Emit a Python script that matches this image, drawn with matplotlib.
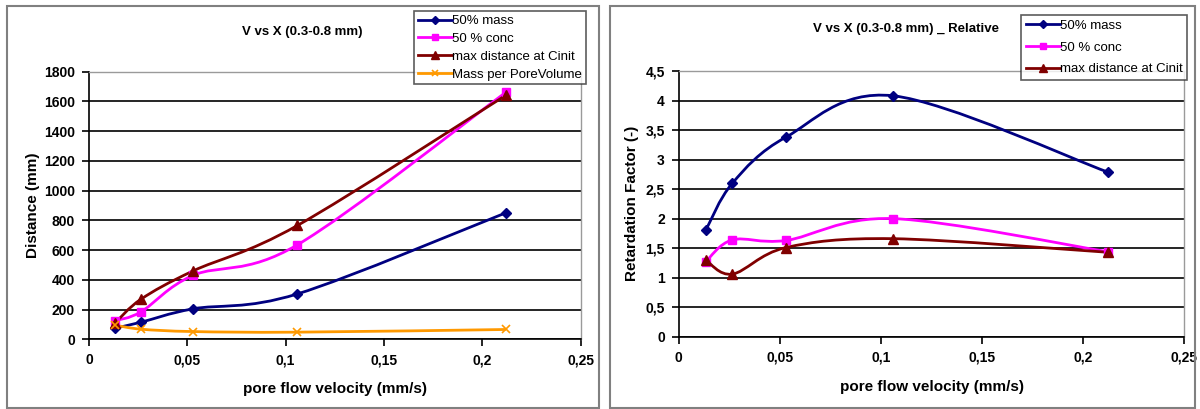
import matplotlib
matplotlib.use("Agg")
import numpy as np
import matplotlib.pyplot as plt
from matplotlib.path import Path
from matplotlib.patches import PathPatch, Rectangle
from matplotlib.lines import Line2D
from matplotlib.ticker import FuncFormatter

plt.rcParams['font.family'] = ['Liberation Sans', 'DejaVu Sans']

# ---- data ----
velocity = [0.0133, 0.0265, 0.053, 0.106, 0.212]

dist_mass50 = [75, 115, 205, 305, 850]
dist_conc50 = [125, 185, 430, 635, 1660]
dist_maxcinit = [110, 270, 460, 765, 1640]
dist_mass_pv = [95, 68, 52, 48, 66]

rf_mass50 = [1.8, 2.6, 3.38, 4.08, 2.79]
rf_conc50 = [1.27, 1.64, 1.63, 2.0, 1.44]
rf_maxcinit = [1.3, 1.06, 1.51, 1.66, 1.43]

left_series = ["50% mass", "50 % conc", "max distance at Cinit", "Mass per PoreVolume"]
right_series = ["50% mass", "50 % conc", "max distance at Cinit"]

title_left = "V vs X (0.3-0.8 mm)"
title_right = "V vs X (0.3-0.8 mm) _ Relative"
xlabel = "pore flow velocity (mm/s)"

styles = {
    "50% mass": dict(color="#000080", marker="D", ms=5),
    "50 % conc": dict(color="#FF00FF", marker="s", ms=6),
    "max distance at Cinit": dict(color="#800000", marker="^", ms=7),
    "Mass per PoreVolume": dict(color="#FF9900", marker="x", ms=6),
}

W, H = 1200, 409
fig = plt.figure(figsize=(W / 100, H / 100), dpi=100)


def smooth_path(xs, ys):
    """Excel-like smoothed line: cubic Bezier segments with Catmull-Rom control points."""
    pts = list(zip(xs, ys))
    n = len(pts)
    verts = [pts[0]]
    codes = [Path.MOVETO]
    for i in range(n - 1):
        p0 = pts[i - 1] if i > 0 else pts[i]
        p1 = pts[i]
        p2 = pts[i + 1]
        p3 = pts[i + 2] if i + 2 < n else pts[i + 1]
        c1 = (p1[0] + (p2[0] - p0[0]) / 6.0, p1[1] + (p2[1] - p0[1]) / 6.0)
        c2 = (p2[0] - (p3[0] - p1[0]) / 6.0, p2[1] - (p3[1] - p1[1]) / 6.0)
        verts += [c1, c2, p2]
        codes += [Path.CURVE4] * 3
    return Path(verts, codes)


def draw_series(ax, xs, ys, name):
    st = styles[name]
    patch = PathPatch(smooth_path(xs, ys), facecolor="none", edgecolor=st["color"],
                      lw=2.0, zorder=3, clip_on=False)
    ax.add_patch(patch)
    if st["marker"] == "x":
        ax.plot(xs, ys, linestyle="none", marker="x", ms=st["ms"], mew=1.2,
                color=st["color"], zorder=4, clip_on=False)
    else:
        ax.plot(xs, ys, linestyle="none", marker=st["marker"], ms=st["ms"],
                color=st["color"], mec=st["color"], zorder=4, clip_on=False)


def legend_handle(name):
    st = styles[name]
    return Line2D([], [], color=st["color"], lw=2.0, marker=st["marker"],
                  ms=st["ms"] - 1, mew=1.2 if st["marker"] == "x" else 1.0)


def comma_fmt(v, pos):
    s = ("%g" % round(v, 4))
    return s.replace(".", ",")


def style_axes(ax, ymax, ystep, ylabel, ylabelpad):
    ax.set_xlim(0, 0.25)
    ax.set_ylim(0, ymax)
    ax.set_xticks([0, 0.05, 0.1, 0.15, 0.2, 0.25])
    ax.set_yticks(np.arange(0, ymax + ystep / 2, ystep))
    ax.xaxis.set_major_formatter(FuncFormatter(comma_fmt))
    ax.yaxis.set_major_formatter(FuncFormatter(comma_fmt))
    ax.tick_params(axis="both", labelsize=10, length=5, width=1.2, direction="out",
                   color="black", pad=5)
    ax.grid(axis="y", color="black", lw=1.2, zorder=1)
    ax.set_axisbelow(True)
    for side in ("top", "right"):
        ax.spines[side].set_color("#9a9a9a")
        ax.spines[side].set_linewidth(1.0)
    for side in ("left", "bottom"):
        ax.spines[side].set_color("black")
        ax.spines[side].set_linewidth(1.2)
    ax.set_xlabel(xlabel, fontsize=11, fontweight="bold", labelpad=11)
    ax.set_ylabel(ylabel, fontsize=11, fontweight="bold", labelpad=ylabelpad)
    for lab in ax.get_xticklabels() + ax.get_yticklabels():
        lab.set_fontweight("bold")
    ax.set_facecolor("white")


# panel frames
fig.patches.append(Rectangle((7 / W, 1 - 408 / H), (599 - 7) / W, (408 - 6) / H,
                             transform=fig.transFigure, fill=False,
                             edgecolor="#808080", lw=1.5))
fig.patches.append(Rectangle((610 / W, 1 - 408 / H), (1195 - 610) / W, (408 - 6) / H,
                             transform=fig.transFigure, fill=False,
                             edgecolor="#808080", lw=1.5))

# ---- left axes ----
axL = fig.add_axes([89 / W, 1 - 339.3 / H, (580.5 - 89) / W, (339.3 - 71.5) / H])
style_axes(axL, 1800, 200, "Distance (mm)", 3)
for name, ys in zip(left_series, [dist_mass50, dist_conc50, dist_maxcinit, dist_mass_pv]):
    draw_series(axL, velocity, ys, name)
axL.set_title(title_left, fontsize=9.5, fontweight="bold", x=(302 - 89) / (580.5 - 89),
              y=1.0, pad=26)
legL = axL.legend([legend_handle(n) for n in left_series], left_series,
                  loc="upper left", bbox_to_anchor=((414 - 89) / (580.5 - 89), 1 + (71.5 - 11) / (339.3 - 71.5)),
                  fontsize=9.5, frameon=True, fancybox=False, edgecolor="#333333",
                  borderpad=0.3, labelspacing=0.42, handlelength=2.6, handletextpad=0.0,
                  borderaxespad=0)
legL.get_frame().set_linewidth(1.2)
legL.set_zorder(10)

# ---- right axes ----
axR = fig.add_axes([678.8 / W, 1 - 336.7 / H, (1184.4 - 678.8) / W, (336.7 - 71.0) / H])
style_axes(axR, 4.5, 0.5, "Retardation Factor (-)", 5)
for name, ys in zip(right_series, [rf_mass50, rf_conc50, rf_maxcinit]):
    draw_series(axR, velocity, ys, name)
axR.set_title(title_right, fontsize=9.5, fontweight="bold", x=(906 - 678.8) / (1184.4 - 678.8),
              y=1.0, pad=28)
legR = axR.legend([legend_handle(n) for n in right_series], right_series,
                  loc="upper left", bbox_to_anchor=((1021 - 678.8) / (1184.4 - 678.8), 1 + (71 - 15) / (336.7 - 71.0)),
                  fontsize=9.5, frameon=True, fancybox=False, edgecolor="#333333",
                  borderpad=0.35, labelspacing=0.72, handlelength=2.6, handletextpad=0.0,
                  borderaxespad=0)
legR.get_frame().set_linewidth(1.2)
legR.set_zorder(10)

fig.savefig("out.png", dpi=100, facecolor="white")
